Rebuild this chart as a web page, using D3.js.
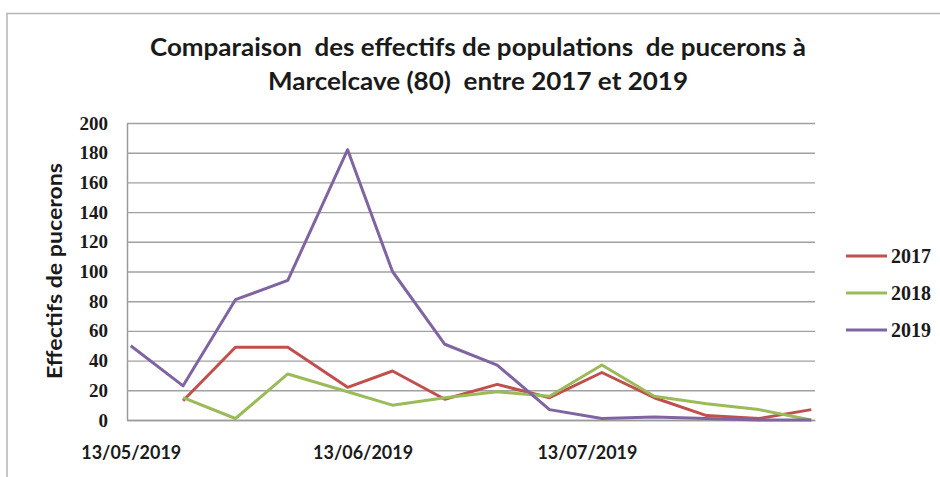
<!DOCTYPE html>
<html>
<head>
<meta charset="utf-8">
<script src="https://cdn.jsdelivr.net/npm/d3@7"></script>
<style>
  body { margin: 0; background: #fff; }
</style>
</head>
<body>
<svg id="mySvg" width="940" height="477"></svg>
<script>
// sampling dates (weekly counts, 2019 calendar used as the x axis)
var dates = ["13/05/2019", "20/05/2019", "27/05/2019", "03/06/2019", "11/06/2019", "17/06/2019", "24/06/2019",
             "01/07/2019", "08/07/2019", "15/07/2019", "22/07/2019", "29/07/2019", "05/08/2019", "12/08/2019"];
var years = ["2017", "2018", "2019"];
var values2017 = [null, 13, 49, 49, 22, 33, 14, 24, 15, 32, 15, 3, 1, 7];
var values2018 = [null, 15, 1, 31, 19, 10, 15, 19, 16, 37, 16, 11, 7, 0];
var values2019 = [50, 23, 81, 94, 182, 100, 51, 37, 7, 1, 2, 1, 0, 0];
var xTickLabels = ["13/05/2019", "13/06/2019", "13/07/2019"];
var yTicks = [0, 20, 40, 60, 80, 100, 120, 140, 160, 180, 200];

var colors = {"2017": "#c0504d", "2018": "#9bbb59", "2019": "#8064a2"};
var titleLines = ["Comparaison  des effectifs de populations  de pucerons à",
                  "Marcelcave (80)  entre 2017 et 2019"];
var yTitle = "Effectifs de pucerons";

var parseDate = d3.timeParse("%d/%m/%Y");
var plotLeft = 127, plotRight = 815, plotTop = 123, plotBottom = 420;

var svg = d3.select("#mySvg");

// outer chart frame (cropped on the right and bottom)
svg.append("path")
    .attr("d", "M7,477 L7,13.5 L940,13.5")
    .attr("fill", "none")
    .attr("stroke", "#b5b5b5")
    .attr("stroke-width", 1.5);

// dates sit in the middle of their day slot
var firstDate = parseDate(dates[0]);
var lastDate = parseDate(dates[dates.length - 1]);
var xScale = d3.scaleTime()
    .domain([d3.timeHour.offset(firstDate, -12), d3.timeHour.offset(lastDate, 12)])
    .range([plotLeft, plotRight]);

var yScale = d3.scaleLinear()
    .domain([0, 200])
    .range([plotBottom, plotTop]);

// y axis with gridlines
var yAxis = d3.axisLeft(yScale)
    .tickValues(yTicks)
    .tickSizeInner(-(plotRight - plotLeft))
    .tickSizeOuter(0)
    .tickPadding(19);

var gy = svg.append("g")
    .attr("transform", "translate(" + plotLeft + ",0)")
    .call(yAxis);
gy.select(".domain").attr("stroke", "#9a9a9a").attr("stroke-width", 1.5);
gy.selectAll(".tick line").attr("stroke", "#a0a0a0").attr("stroke-width", 1.4);
gy.selectAll(".tick text")
    .attr("fill", "#1a1a1a")
    .attr("font-family", "'Liberation Serif', serif")
    .attr("font-weight", "bold")
    .attr("font-size", 19);

// x axis
var xAxis = d3.axisBottom(xScale)
    .tickValues(xTickLabels.map(parseDate))
    .tickFormat(d3.timeFormat("%d/%m/%Y"))
    .tickSize(0)
    .tickPadding(26);

var gx = svg.append("g")
    .attr("transform", "translate(0," + plotBottom + ")")
    .call(xAxis);
gx.select(".domain").attr("stroke", "#9a9a9a").attr("stroke-width", 1.5);
gx.selectAll(".tick text")
    .attr("fill", "#1a1a1a")
    .attr("font-family", "Lato, sans-serif")
    .attr("font-weight", "bold")
    .attr("font-size", 18)
    .attr("textLength", 100)
    .attr("lengthAdjust", "spacingAndGlyphs");

// series lines
var series = [
    {year: years[0], values: values2017},
    {year: years[1], values: values2018},
    {year: years[2], values: values2019}
];

var line = d3.line()
    .defined(d => d.v != null)
    .x(d => xScale(d.date))
    .y(d => yScale(d.v));

series.forEach(function(s) {
    var pts = dates.map(function(d, i) {
        return {date: parseDate(d), v: s.values[i]};
    });
    svg.append("path")
        .datum(pts)
        .attr("fill", "none")
        .attr("stroke", colors[s.year])
        .attr("stroke-width", 3)
        .attr("stroke-linejoin", "round")
        .attr("d", line);
});

// title
svg.selectAll(".title")
    .data(titleLines)
    .enter()
    .append("text")
    .attr("class", "title")
    .attr("x", 478)
    .attr("y", (d, i) => 56 + i * 34)
    .attr("text-anchor", "middle")
    .attr("font-family", "Lato, sans-serif")
    .attr("font-weight", "bold")
    .attr("font-size", 25)
    .attr("fill", "#1a1a1a")
    .style("white-space", "pre")
    .attr("textLength", (d, i) => i == 0 ? 656 : 420)
    .attr("lengthAdjust", "spacingAndGlyphs")
    .text(d => d);

// y axis title
svg.append("text")
    .attr("transform", "translate(62,271) rotate(-90)")
    .attr("text-anchor", "middle")
    .attr("font-family", "Lato, sans-serif")
    .attr("font-weight", "bold")
    .attr("font-size", 21)
    .attr("fill", "#1a1a1a")
    .attr("textLength", 216)
    .attr("lengthAdjust", "spacingAndGlyphs")
    .text(yTitle);

// legend
var legend = svg.selectAll(".legend")
    .data(years)
    .enter()
    .append("g")
    .attr("class", "legend")
    .attr("transform", (d, i) => "translate(846," + (256 + i * 37) + ")");

legend.append("line")
    .attr("x1", 0)
    .attr("x2", 41)
    .attr("stroke", d => colors[d])
    .attr("stroke-width", 3);

legend.append("text")
    .attr("x", 45)
    .attr("y", 7)
    .attr("font-family", "'Liberation Serif', serif")
    .attr("font-weight", "bold")
    .attr("font-size", 20)
    .attr("fill", "#1a1a1a")
    .text(d => d);
</script>
</body>
</html>
